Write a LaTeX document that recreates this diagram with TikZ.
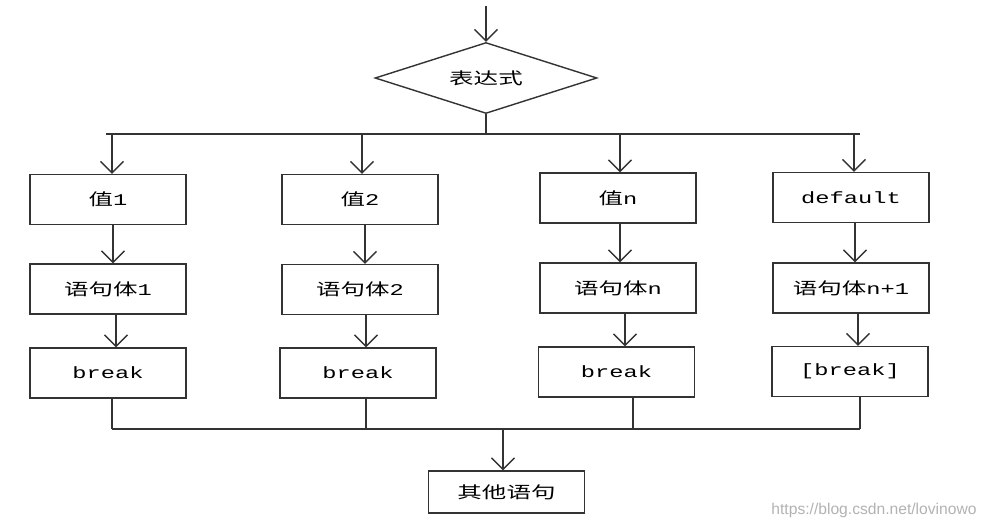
\documentclass[tikz,border=0pt]{standalone}
\usepackage{fontspec}
\setmainfont{Liberation Mono}[FakeStretch=1.45]
\newfontfamily\cjk{Noto Sans CJK SC}[FakeStretch=1.5]
\newfontfamily\wmfont{Liberation Sans}
\usetikzlibrary{shapes.geometric,arrows.meta}
\definecolor{ln}{HTML}{333333}
\tikzset{
  box/.style={draw=ln, line width=0.8pt, minimum width=3.12cm, minimum height=1cm, inner sep=0pt,
              font=\fontsize{9.3pt}{10pt}\selectfont},
  dia/.style={draw=ln, line width=0.8pt, diamond, aspect=3, minimum width=4.44cm, minimum height=1.42cm,
              inner sep=0pt, font=\fontsize{9.3pt}{10pt}\selectfont},
  arr/.style={draw=ln, line width=0.8pt, -{Straight Barb[length=6.5pt,width=13pt,line width=0.8pt]}},
  lin/.style={draw=ln, line width=0.8pt},
}
\begin{document}
\begin{tikzpicture}[x=0.02cm, y=-0.02cm]
\useasboundingbox (0,0) rectangle (988,524);
% top
\coordinate (top) at (486,6);
\node[dia] (d) at (486,78) {{\cjk 表达式}};
\coordinate (hl) at (106,134);
\coordinate (hr) at (860,134);
\coordinate (bl) at (112,429);
\coordinate (br) at (860,429);
% boxes
\node[box] (a1) at (108,199.5) {{\cjk 值}1};
\node[box] (a2) at (108,289) {{\cjk 语句体}1};
\node[box] (a3) at (108,373) {break};
\node[box] (b1) at (360,199.5) {{\cjk 值}2};
\node[box] (b2) at (360,289.5) {{\cjk 语句体}2};
\node[box] (b3) at (358,373) {break};
\node[box] (c1) at (618,198) {{\cjk 值}n};
\node[box] (c2) at (618,288) {{\cjk 语句体}n};
\node[box] (c3) at (616.5,372) {break};
\node[box] (e1) at (851,197.5) {default};
\node[box] (e2) at (851,288) {{\cjk 语句体}n+1};
\node[box] (e3) at (850,371.5) {[break]};
\node[box, minimum height=0.84cm] (z) at (506.5,492) {{\cjk 其他语句}};
% watermark
\node[font=\wmfont\fontsize{8.9pt}{9pt}\selectfont, text=black!30, inner sep=0pt] (wm) at (874,510) {https://blog.csdn.net/lovinowo};
% connectors
\draw[arr] (top) -- (d.north);
\draw[lin] (d.south) -- (d.south |- hl);
\draw[lin] (hl) -- (hr);
\draw[arr] ([xshift=0.08cm]a1.north |- hl) -- ([xshift=0.08cm]a1.north);
\draw[arr] ([xshift=0.1cm]a1.south) -- ([xshift=0.1cm]a2.north);
\draw[arr] ([xshift=0.16cm]a2.south) -- ([xshift=0.16cm]a3.north);
\draw[lin] ([xshift=0.08cm]a3.south) -- ([xshift=0.08cm]a3.south |- bl);
\draw[arr] ([xshift=0.04cm]b1.north |- hl) -- ([xshift=0.04cm]b1.north);
\draw[arr] ([xshift=0.1cm]b1.south) -- ([xshift=0.1cm]b2.north);
\draw[arr] ([xshift=0.12cm]b2.south) -- ([xshift=0.12cm]b2.south |- b3.north);
\draw[lin] ([xshift=0.16cm]b3.south) -- ([xshift=0.16cm]b3.south |- bl);
\draw[arr] ([xshift=0.04cm]c1.north |- hl) -- ([xshift=0.04cm]c1.north);
\draw[arr] ([xshift=0.04cm]c1.south) -- ([xshift=0.04cm]c2.north);
\draw[arr] ([xshift=0.14cm]c2.south) -- ([xshift=0.14cm]c2.south |- c3.north);
\draw[lin] ([xshift=0.33cm]c3.south) -- ([xshift=0.33cm]c3.south |- bl);
\draw[arr] ([xshift=0.06cm]e1.north |- hr) -- ([xshift=0.06cm]e1.north);
\draw[arr] ([xshift=0.08cm]e1.south) -- ([xshift=0.08cm]e2.north);
\draw[arr] ([xshift=0.14cm]e2.south) -- ([xshift=0.14cm]e2.south |- e3.north);
\draw[lin] (e3.south -| br) -- (br);
\draw[lin] (bl) -- (br);
\draw[arr] ([xshift=-0.07cm]z.north |- bl) -- ([xshift=-0.07cm]z.north);
\end{tikzpicture}
\end{document}
